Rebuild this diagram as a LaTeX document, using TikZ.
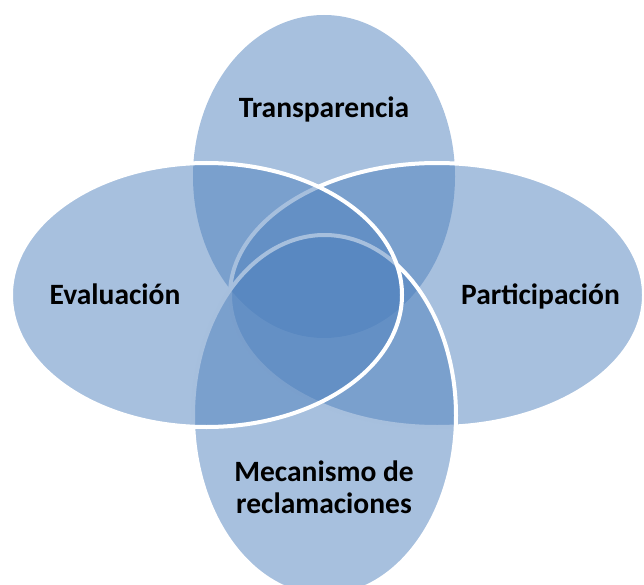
\documentclass[tikz,border=0pt]{standalone}
\usepackage{fontspec}
\setmainfont{Carlito}
\usetikzlibrary{calc}

\definecolor{petalblue}{HTML}{4F81BD}

\tikzset{
 petal/.style={fill=petalblue,fill opacity=0.5},
 rim/.style={draw=white,draw opacity=1,line width=4pt},
 label/.style={font=\fontsize{29.5}{32}\selectfont\bfseries,text=black,align=center,inner sep=0pt}
}

\begin{document}
\begin{tikzpicture}[x=1pt,y=-1pt]

\newcommand{\petal}[5][rim] % [border][x][y][rx][ry]
{
 \path[petal,#1] (#2,#3) ellipse ({#4} and {#5});
}

\useasboundingbox (0,0) rectangle (644,585);
\clip (0,0) rectangle (644,585);

% the four petals, drawn clockwise from the top
\petal[]{324}{176.5}{131}{161.5}
\petal{437}{295}{207}{132}
\petal{324.5}{415.5}{131.5}{180.5}
\petal{206.5}{295}{195.5}{132}

\node[label,anchor=base] (transp) at (324,118) {Transparencia};
\node[label,anchor=base] (partic) at (540.5,304) {Participación};
\node[label,anchor=base] (evalua) at (115,304) {Evaluación};
\node[label,anchor=center] (reclam) at (324,487) {Mecanismo de\\reclamaciones};

\end{tikzpicture}
\end{document}
